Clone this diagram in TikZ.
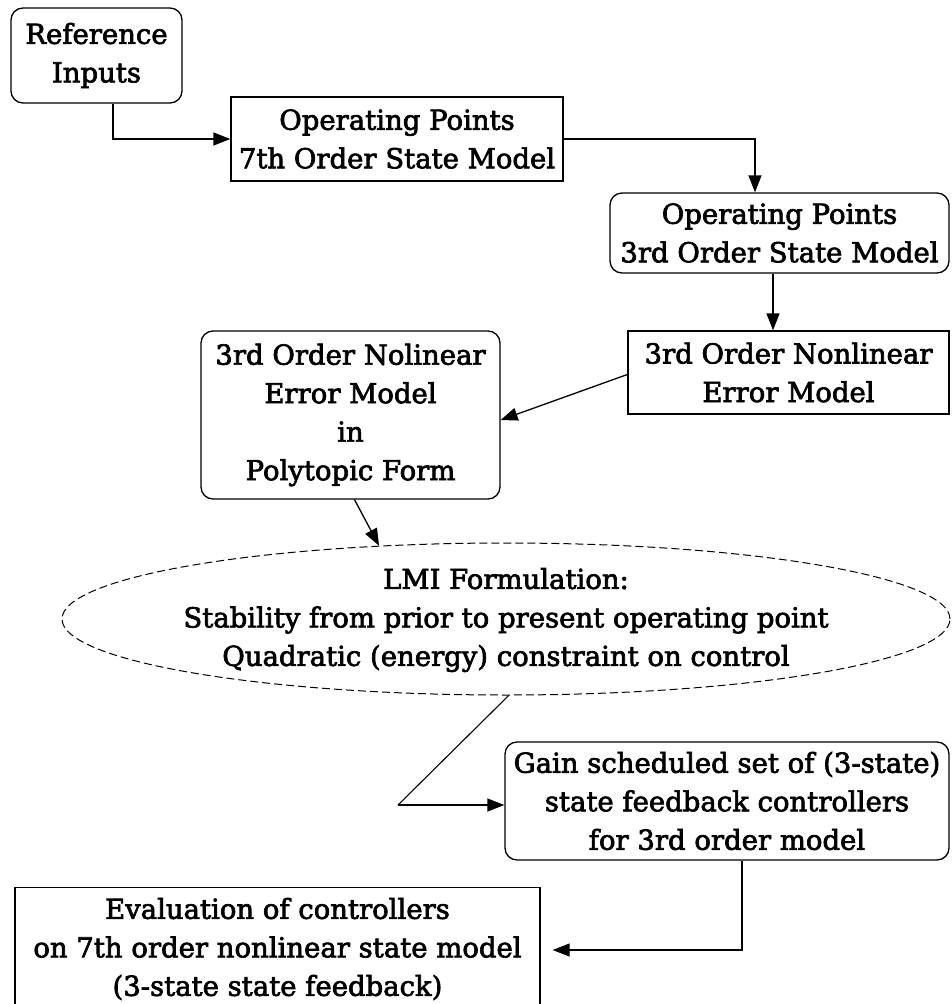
\documentclass[tikz,border=0pt]{standalone}
\usepackage{fontspec}
\setmainfont{DejaVu Serif}[BoldFont={DejaVu Serif},BoldFeatures={FakeBold=2.5}]
\usetikzlibrary{arrows.meta,shapes.geometric}
\begin{document}
\begin{tikzpicture}[x=1pt,y=-1pt,
  every node/.style={align=center,inner sep=0pt,font=\fontsize{27.5}{38.5}\selectfont\bfseries},
  sqbox/.style={draw,rectangle,line width=1.3pt},
  rbox/.style={draw,rectangle,rounded corners=12pt,line width=1.3pt},
  arr/.style={line width=1.3pt,-{Triangle[length=17pt,width=13pt]}},
  conn/.style={line width=1.1pt}]
\useasboundingbox (0,0) rectangle (951,1004);
\node[rbox,minimum width=171pt,minimum height=95pt] (ref) at (96.5,55.5) {Reference\\Inputs};
\node[sqbox,minimum width=332pt,minimum height=84pt] (op7) at (397,139) {Operating Points\\7th Order State Model};
\node[rbox,minimum width=339pt,minimum height=80pt] (op3) at (779.5,233) {Operating Points\\3rd Order State Model};
\node[sqbox,minimum width=321pt,minimum height=83pt] (err) at (788.5,372.5) {3rd Order Nonlinear\\Error Model};
\node[rbox,minimum width=299pt,minimum height=168pt] (poly) at (350.5,415) {3rd Order Nolinear\\Error Model\\in\\Polytopic Form};
\node[draw,ellipse,dash pattern=on 8pt off 4pt,line width=1pt,minimum width=888pt,minimum height=152pt] (lmi) at (506,619) {};
\node (lmitext) at (506,620) {LMI Formulation:\\Stability from prior to present operating point\\Quadratic (energy) constraint on control};
\node[rbox,minimum width=444pt,minimum height=118pt] (gain) at (727,801) {Gain scheduled set of (3-state)\\state feedback controllers\\for 3rd order model};
\node[sqbox,minimum width=525pt,minimum height=125pt,anchor=north] (eval) at (277.5,887) {};
\node (evaltext) at (277.5,949) {Evaluation of controllers\\on 7th order nonlinear state model\\(3-state state feedback)};
\coordinate (bend) at (398,805);
\draw[arr] ([xshift=16.5pt]ref.south) |- (op7.west);
\draw[arr] (op7.east) -| ([xshift=-24.5pt]op3.north);
\draw[arr] ([xshift=-6.5pt]op3.south) -- ([xshift=-6.5pt]op3.south |- err.north);
\draw[arr] ([yshift=-2pt]err.west) -- ([yshift=-5pt]poly.east);
\draw[arr] ([xshift=4pt]poly.south) -- (lmi.150);
\draw[conn] (lmi.-88) -- (bend);
\draw[arr] (bend) -- (gain.west |- bend);
\draw[arr,shorten >=12pt] ([xshift=15pt]gain.south) |- (eval.east |- {(0,950)});
\end{tikzpicture}
\end{document}
